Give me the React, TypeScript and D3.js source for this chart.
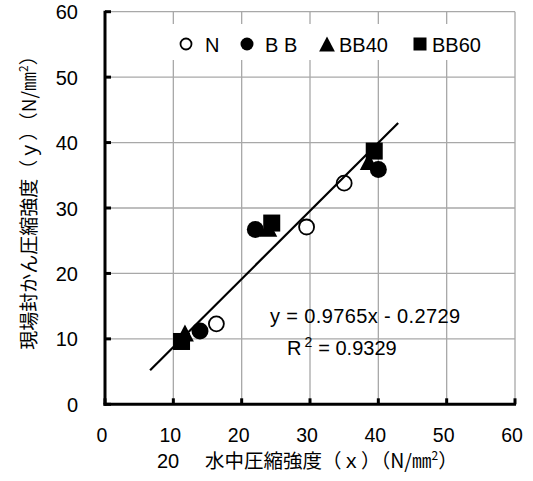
import React from "react";
import * as d3 from "d3";

const xTicks = [0, 10, 20, 30, 40, 50, 60];
const yTicks = [0, 10, 20, 30, 40, 50, 60];

const seriesNames = ["N", "B B", "BB40", "BB60"];
const nX = [16.3, 29.5, 35.0];
const nY = [12.3, 27.1, 33.8];
const bbX = [13.9, 22.0, 40.0];
const bbY = [11.2, 26.7, 35.9];
const bb40X = [11.7, 23.9, 38.6];
const bb40Y = [10.9, 26.9, 37.1];
const bb60X = [11.2, 24.4, 39.4];
const bb60Y = [9.6, 27.7, 38.7];

// trend line as drawn on the picture
const trendX = [6.6, 42.9];
const trendY = [5.2, 43.0];

const eqText = "y = 0.9765x - 0.2729";
const r2Value = "= 0.9329";

const W = 533;
const H = 481;
const left = 105;
const right = 515;
const top = 11.7;
const bottom = 404.3;

const FONT = "'Liberation Sans', Arial, sans-serif";
const CJK = "'Noto Sans CJK JP', 'Noto Sans CJK SC', sans-serif";

function Marker({ kind, x, y, s }: { kind: number; x: number; y: number; s: number }) {
  if (kind === 0) {
    return <circle cx={x} cy={y} r={s / 2 - 1} fill="#fff" stroke="#000" strokeWidth={1.8} />;
  }
  if (kind === 1) {
    return <circle cx={x} cy={y} r={s / 2} fill="#000" />;
  }
  if (kind === 2) {
    const h = s;
    const w = s * 1.05;
    const p = `M${x},${y - h / 2} L${x + w / 2},${y + h / 2} L${x - w / 2},${y + h / 2} Z`;
    return <path d={p} fill="#000" />;
  }
  return <rect x={x - s / 2} y={y - s / 2} width={s} height={s} fill="#000" />;
}

export default function App() {
  const xs = d3.scaleLinear().domain([0, 60]).range([left, right]);
  const ys = d3.scaleLinear().domain([0, 60]).range([bottom, top]);

  const series = [
    { xs: nX, ys: nY },
    { xs: bbX, ys: bbY },
    { xs: bb40X, ys: bb40Y },
    { xs: bb60X, ys: bb60Y },
  ];
  const drawOrder = [2, 3, 1, 0];

  const line = d3
    .line<number>()
    .x((_, i) => xs(trendX[i]))
    .y((_, i) => ys(trendY[i]));

  const legendMarkerX = [186, 247, 327, 420];
  const legendTextX = [205, 265, 339, 432];
  const legendSizes = [13, 13, 15, 13];
  const legendY = 44;

  return (
    <svg
      width={W}
      height={H}
      style={{ position: "absolute", left: 0, top: 0, background: "#fff" }}
    >
      <rect x={0} y={0} width={W} height={H} fill="#fff" />
      {/* grid */}
      {xTicks.filter((t) => t > 0).map((t) => (
        <line key={"gx" + t} x1={xs(t)} x2={xs(t)} y1={top} y2={bottom} stroke="#a8a8a8" strokeWidth={1.3} />
      ))}
      {yTicks.filter((t) => t > 0).map((t) => (
        <line key={"gy" + t} x1={left} x2={right} y1={ys(t)} y2={ys(t)} stroke="#a8a8a8" strokeWidth={1.3} />
      ))}
      {/* legend box */}
      <rect x={163} y={24} width={334} height={36} fill="#fff" />
      {seriesNames.map((n, i) => (
        <g key={"lg" + i}>
          <Marker kind={i} x={legendMarkerX[i]} y={legendY} s={legendSizes[i]} />
          <text x={legendTextX[i]} y={legendY + 7.5} fontFamily={FONT} fontSize={20} fill="#000">
            {n}
          </text>
        </g>
      ))}
      {/* markers */}
      {drawOrder.map((k) =>
        series[k].xs.map((vx, i) => (
          <Marker key={"m" + k + "_" + i} kind={k} x={xs(vx)} y={ys(series[k].ys[i])} s={17} />
        ))
      )}
      {/* trend line */}
      <path d={line(trendX) || ""} stroke="#000" strokeWidth={2.2} fill="none" />
      {/* axes */}
      <line x1={left} x2={left} y1={top - 1} y2={bottom + 1.5} stroke="#000" strokeWidth={3} />
      <line x1={left - 1.5} x2={right + 1} y1={bottom} y2={bottom} stroke="#000" strokeWidth={3} />
      {yTicks.map((t) => (
        <line key={"ty" + t} x1={left} x2={left + 6} y1={ys(t)} y2={ys(t)} stroke="#000" strokeWidth={3} />
      ))}
      {xTicks.map((t) => (
        <line key={"tx" + t} x1={xs(t)} x2={xs(t)} y1={bottom} y2={bottom - 6} stroke="#000" strokeWidth={3} />
      ))}
      {/* tick labels */}
      {yTicks.map((t) => (
        <text key={"ly" + t} x={78} y={ys(t) + 7.5} textAnchor="end" fontFamily={FONT} fontSize={20} fill="#000">
          {t}
        </text>
      ))}
      {xTicks.map((t) => (
        <text key={"lx" + t} x={xs(t) - 3} y={442} textAnchor="middle" fontFamily={FONT} fontSize={19.5} fill="#000">
          {t}
        </text>
      ))}
      {/* equation */}
      <text x={270} y={323} fontFamily={FONT} fontSize={20} fill="#000" textLength={190}>
        {eqText}
      </text>
      <text x={287} y={355} fontFamily={FONT} fontSize={20} fill="#000">
        R
        <tspan dx={3} dy={-8} fontSize={14}>2</tspan>
        <tspan dx={6} dy={8}>{r2Value}</tspan>
      </text>
      {/* x axis title */}
      <text x={157} y={468} fontFamily={FONT} fontSize={20} fill="#000">
        20
      </text>
      <text x={205} y={468} fontFamily={CJK} fontSize={19.5} fill="#000">
        水中圧縮強度（ｘ）（N/㎜
        <tspan dy={-8} fontSize={12}>2</tspan>
        <tspan dy={8}>）</tspan>
      </text>
      {/* y axis title */}
      <text
        transform={`translate(36, 198) rotate(-90)`}
        textAnchor="middle"
        fontFamily={CJK}
        fontSize={19}
        fill="#000"
      >
        現場封かん圧縮強度（ｙ）（N/㎜
        <tspan dy={-8} fontSize={12}>2</tspan>
        <tspan dy={8}>）</tspan>
      </text>
    </svg>
  );
}
